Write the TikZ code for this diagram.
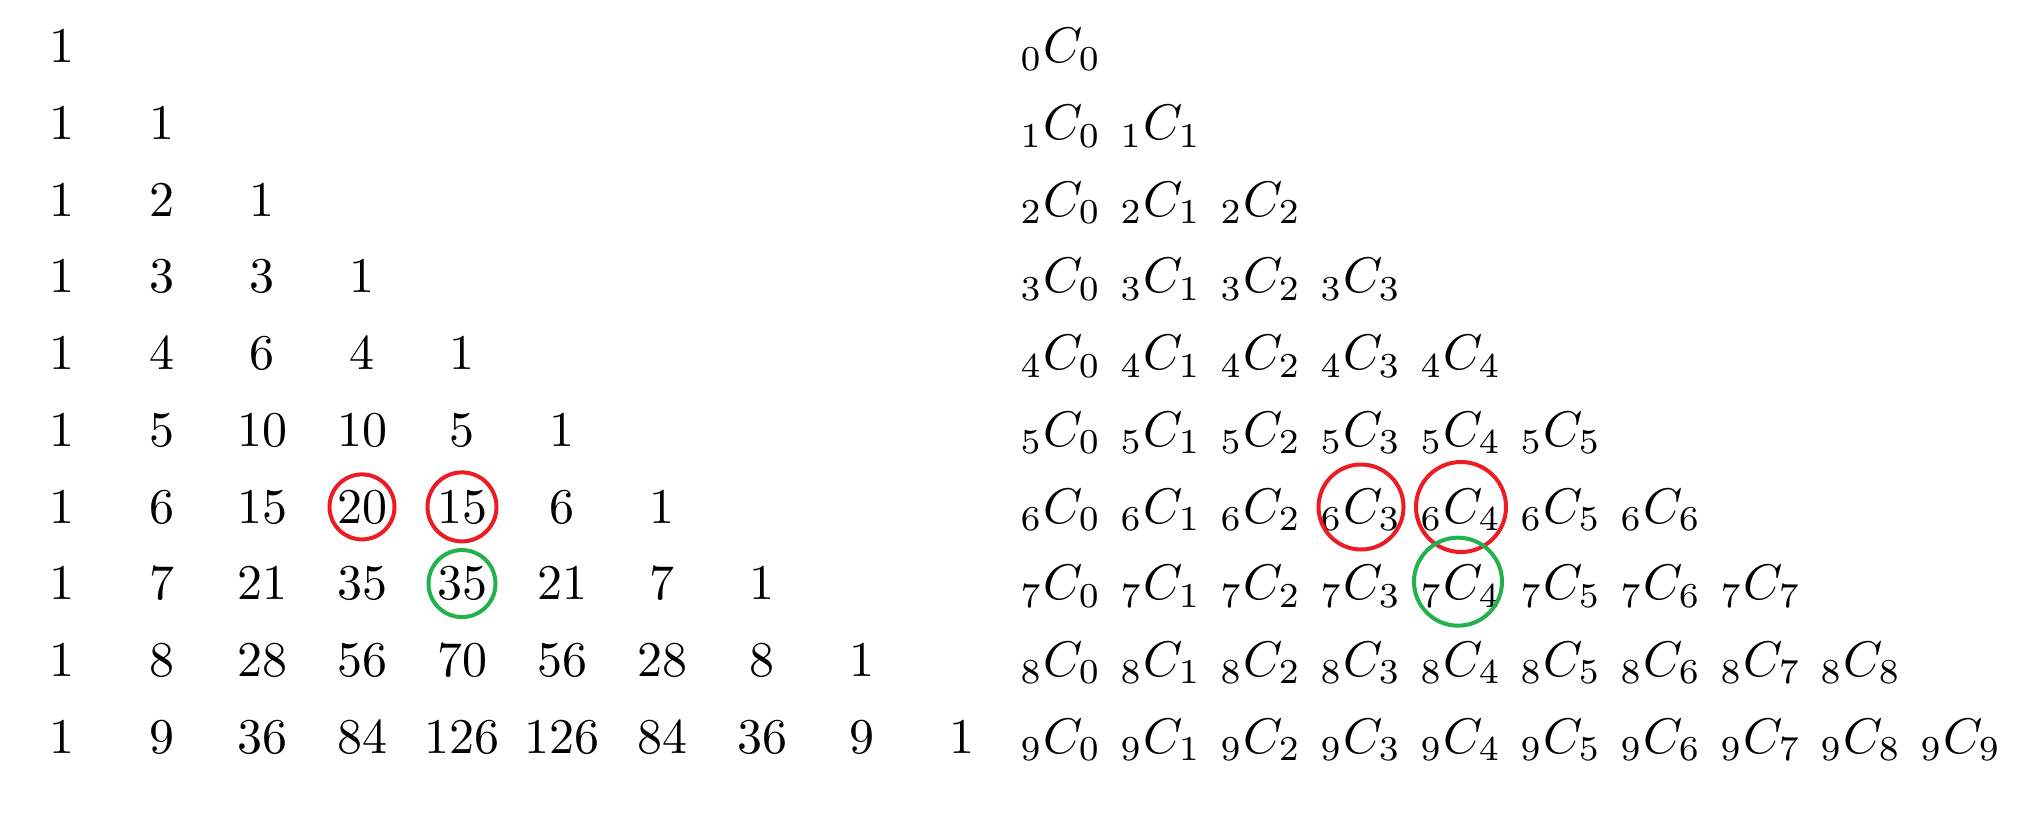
\documentclass[tikz,border=0pt]{standalone}
\definecolor{paintred}{RGB}{237,28,36}
\definecolor{paintgreen}{RGB}{34,177,76}
\begin{document}
\begin{tikzpicture}[x=0.2pt,y=-0.2pt,
  entry/.style={anchor=base,inner sep=0pt,font=\normalsize},
  redring/.style={draw=paintred,line width=0.8pt},
  greenring/.style={draw=paintgreen,line width=0.8pt}]
\useasboundingbox (0,0) rectangle (2034,820);
% left triangle: values
\foreach \row [count=\n from 0] in {{1},{1,1},{1,2,1},{1,3,3,1},{1,4,6,4,1},{1,5,10,10,5,1},{1,6,15,20,15,6,1},{1,7,21,35,35,21,7,1},{1,8,28,56,70,56,28,8,1},{1,9,36,84,126,126,84,36,9,1}}{
  \foreach \v [count=\k from 0] in \row {
    \node[entry] (L\n-\k) at ({62+100*\k},{63+76.67*\n}) {$\v$};
  }
}
% right triangle: symbols
\foreach \n in {0,...,9}{
  \foreach \k in {0,...,\n}{
    \node[entry] (R\n-\k) at ({1061+100*\k},{63+76.67*\n}) {${}_{\n}C_{\k}$};
  }
}
% rings on the left
\draw[redring] (L6-3) circle[radius=6.5pt];
\draw[redring] (L6-4) circle[radius=6.9pt];
\draw[greenring] (L7-4) circle[radius=6.7pt];
% rings on the right
\draw[redring] ([yshift=3.2pt]R6-3.base) circle[radius=8.5pt];
\draw[redring] ([yshift=3.2pt]R6-4.base) circle[radius=9pt];
\draw[greenring] ([xshift=-0.6pt,yshift=3.6pt]R7-4.base) circle[radius=8.8pt];
\end{tikzpicture}
\end{document}
